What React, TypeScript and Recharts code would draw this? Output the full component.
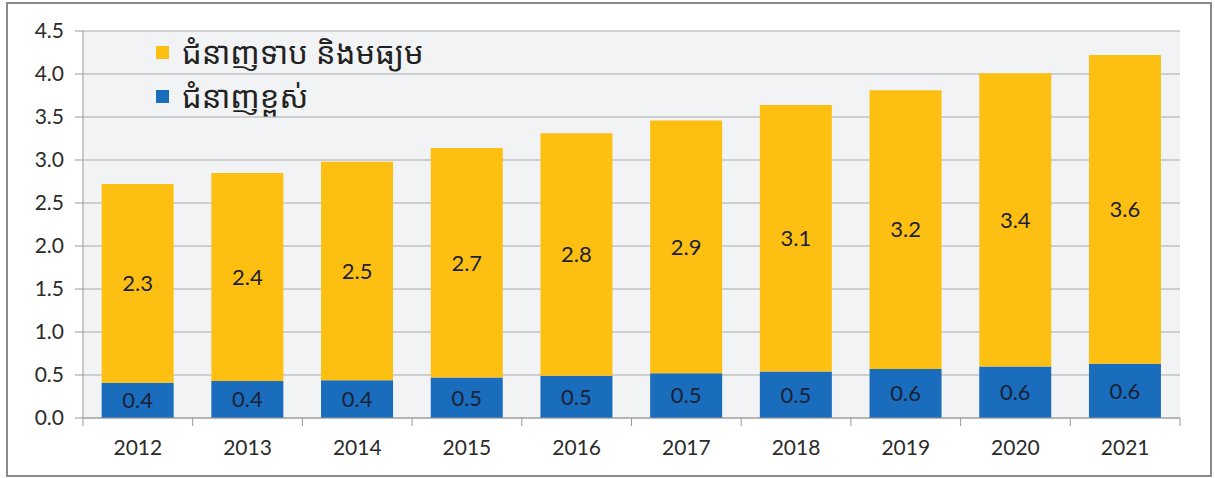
import { Bar, BarChart, CartesianGrid, LabelList, Legend, XAxis, YAxis } from "recharts";

const years = ["2012", "2013", "2014", "2015", "2016", "2017", "2018", "2019", "2020", "2021"];
const highSkill = [0.41, 0.43, 0.44, 0.47, 0.49, 0.52, 0.54, 0.57, 0.6, 0.63];
const lowMidSkill = [2.31, 2.42, 2.54, 2.67, 2.82, 2.94, 3.1, 3.24, 3.41, 3.59];
const yTicks = [0, 0.5, 1, 1.5, 2, 2.5, 3, 3.5, 4, 4.5];

const highName = "ជំនាញខ្ពស់";
const lowName = "ជំនាញទាប និងមធ្យម";

const data = years.map((year, i) => ({
  year,
  high: highSkill[i],
  low: lowMidSkill[i],
}));

const font = "Lato, 'Noto Sans', sans-serif";
const fmt = (v: any) => Number(v).toFixed(1);

// year label plus the small tick marks that sit between categories
function YearTick(props: any) {
  const { x, y, payload, index, visibleTicksCount } = props;
  const off = payload.offset || 0;
  const last = index === visibleTicksCount - 1;
  return (
    <g>
      <line x1={x - off} x2={x - off} y1={y - 8} y2={y} stroke="#9a9a9a" />
      {last && <line x1={x + off} x2={x + off} y1={y - 8} y2={y} stroke="#9a9a9a" />}
      <text x={x} y={y + 29} textAnchor="middle" fill="#2b2b2b" fontSize={21} fontFamily={font}>
        {payload.value}
      </text>
    </g>
  );
}

function KhmerLegend(props: any) {
  const items = [...(props.payload || [])].reverse();
  return (
    <div style={{ fontFamily: "'Noto Sans Khmer', 'Khmer OS', 'Noto Sans', sans-serif" }}>
      {items.map((item: any) => (
        <div
          key={item.value}
          style={{ display: "flex", alignItems: "center", height: 44, fontSize: 31, color: "#222", whiteSpace: "pre" }}
        >
          <span
            style={{ width: 13, height: 13, background: item.color, marginRight: 13, display: "inline-block" }}
          />
          {item.value}
        </div>
      ))}
    </div>
  );
}

export default function App() {
  return (
    <div
      style={{
        position: "absolute",
        left: 6,
        top: 2,
        width: 1206,
        height: 475,
        border: "2px solid #8a8a8a",
        boxSizing: "border-box",
        background: "#fff",
      }}
    >
      <BarChart
        width={1202}
        height={471}
        data={data}
        margin={{ top: 27, right: 30, left: 15, bottom: 17 }}
        barCategoryGap="17%"
      >
        <CartesianGrid vertical={false} stroke="#a9a9a9" fill="#f2f3f5" />
        <XAxis
          dataKey="year"
          height={40}
          tickLine={false}
          tickSize={8}
          tickMargin={0}
          axisLine={{ stroke: "#9a9a9a" }}
          tick={YearTick}
        />
        <YAxis
          width={60}
          domain={[0, 4.5]}
          ticks={yTicks}
          tickFormatter={fmt}
          axisLine={{ stroke: "#9a9a9a" }}
          tickLine={{ stroke: "#9a9a9a" }}
          tickSize={8}
          tickMargin={11}
          tick={{ fill: "#2b2b2b", fontSize: 21, fontFamily: font }}
        />
        <Legend
          layout="horizontal"
          verticalAlign="middle"
          align="center"
          content={KhmerLegend}
          wrapperStyle={{ left: 148, top: 26, width: "auto" }}
        />
        <Bar dataKey="high" name={highName} stackId="a" fill="#1a6cbd" isAnimationActive={false}>
          <LabelList
            dataKey="high"
            position="center"
            formatter={fmt}
            style={{ fill: "#1b2136", fontSize: 22, fontFamily: font }}
          />
        </Bar>
        <Bar dataKey="low" name={lowName} stackId="a" fill="#fdc012" isAnimationActive={false}>
          <LabelList
            dataKey="low"
            position="center"
            formatter={fmt}
            style={{ fill: "#1b2136", fontSize: 22, fontFamily: font }}
          />
        </Bar>
      </BarChart>
    </div>
  );
}
